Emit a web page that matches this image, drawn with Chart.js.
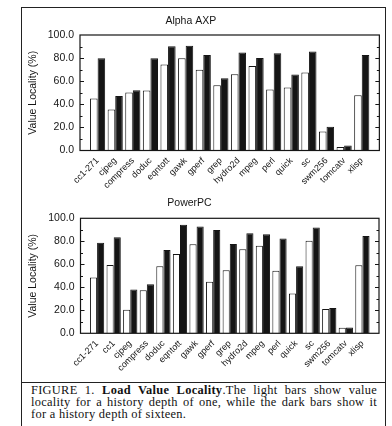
<!DOCTYPE html>
<html>
<head>
<meta charset="utf-8">
<script src="https://cdn.jsdelivr.net/npm/chart.js@4"></script>
<style>
html,body{margin:0;padding:0;background:#fff;width:392px;height:426px;overflow:hidden;}
#frame{position:absolute;left:21px;top:7px;width:365px;height:430px;border:1.5px solid #222;box-sizing:border-box;}
#sep{position:absolute;left:21px;top:382px;width:365px;height:0;border-top:1.5px solid #222;}
canvas{position:absolute;left:0;}
#c1{top:0;}
#c2{top:190px;}
#caption{position:absolute;left:31px;top:384px;width:346px;font-family:"Liberation Serif",serif;font-size:12.4px;line-height:12.2px;color:#111;letter-spacing:0.3px;}
#caption .j{display:block;text-align:justify;text-align-last:justify;white-space:nowrap;}
#caption .l{display:block;white-space:nowrap;}
</style>
</head>
<body>
<div id="frame"></div>
<div id="sep"></div>
<canvas id="c1" width="392" height="190"></canvas>
<canvas id="c2" width="392" height="190"></canvas>
<div id="caption"><span class="j">FIGURE 1. <b>Load Value Locality</b>.The light bars show value</span><span class="j">locality for a history depth of one, while the dark bars show it</span><span class="l">for a history depth of sixteen.</span></div>
<script>
// ---- data ----
const alphaCategories = ["cc1-271","cjpeg","compress","doduc","eqntott","gawk","gperf","grep","hydro2d","mpeg","perl","quick","sc","swm256","tomcatv","xlisp"];
const alphaDepth1  = [45.0, 35.6, 50.2, 51.9, 74.5, 79.8, 69.9, 56.5, 66.0, 73.2, 52.8, 54.5, 67.5, 16.5, 3.0, 47.8];
const alphaDepth16 = [79.8, 47.2, 52.2, 79.8, 90.2, 90.7, 82.6, 62.6, 84.8, 80.0, 84.1, 65.8, 85.7, 20.6, 4.3, 82.6];

const ppcCategories = ["cc1-271","cc1","cjpeg","compress","doduc","eqntott","gawk","gperf","grep","hydro2d","mpeg","perl","quick","sc","swm256","tomcatv","xlisp"];
const ppcDepth1  = [48.5, 59.5, 20.4, 37.4, 58.4, 69.0, 77.4, 44.9, 54.8, 73.0, 76.2, 54.4, 34.6, 80.5, 21.1, 4.8, 59.2];
const ppcDepth16 = [78.8, 83.5, 38.0, 42.7, 72.4, 94.3, 92.8, 89.8, 77.6, 87.0, 86.1, 82.4, 58.3, 91.9, 22.0, 5.1, 84.6];

const yTicks = [0, 20, 40, 60, 80, 100];
const yTitle = "Value Locality (%)";

const INK = '#151515';
const frameTicks = {
  id: 'frameTicks',
  afterDraw(chart) {
    const {ctx, chartArea: a, scales: {y}} = chart;
    ctx.save();
    ctx.strokeStyle = INK;
    ctx.lineWidth = 1.2;
    ctx.strokeRect(a.left, a.top, a.right - a.left, a.bottom - a.top);
    ctx.lineWidth = 1;
    for (let v = 10; v < 100; v += 10) {
      const py = Math.round(y.getPixelForValue(v)) + 0.5;
      const len = (v % 20 === 0) ? 4 : 2.5;
      ctx.beginPath();
      ctx.moveTo(a.left, py); ctx.lineTo(a.left + len, py);
      ctx.moveTo(a.right, py); ctx.lineTo(a.right - len, py);
      ctx.stroke();
    }
    ctx.restore();
  }
};

function makeChart(id, title, cats, d1, d16, geo) {
  const labels = ['', ...cats, ''];
  const pad = a => [null, ...a, null];
  return new Chart(document.getElementById(id), {
    type: 'bar',
    data: {
      labels,
      datasets: [
        {label: 'depth 1', data: pad(d1), backgroundColor: '#ffffff', borderColor: INK, borderWidth: 1,
         categoryPercentage: geo.cat, barPercentage: 1.0},
        {label: 'depth 16', data: pad(d16), backgroundColor: INK, borderColor: INK, borderWidth: 1,
         categoryPercentage: geo.cat, barPercentage: 1.0}
      ]
    },
    options: {
      responsive: false,
      animation: false,
      layout: {padding: {left: 0, right: geo.right, top: 0, bottom: 0}},
      plugins: {
        legend: {display: false},
        tooltip: {enabled: false},
        title: {display: true, text: title, color: INK,
          font: {family: '"Liberation Sans", Arial, sans-serif', size: 10.5, weight: 'normal', lineHeight: 1.2},
          padding: {top: geo.tTop, bottom: geo.tBot}}
      },
      scales: {
        x: {
          offset: false,
          grid: {display: false, drawTicks: false},
          border: {display: false},
          ticks: {autoSkip: false, maxRotation: 45, minRotation: 45, padding: 5, color: INK,
            font: {family: '"Liberation Sans", Arial, sans-serif', size: 9}},
          afterFit(s) { s.height = geo.xh; }
        },
        y: {
          min: 0, max: 100,
          afterBuildTicks(s) { s.ticks = yTicks.map(v => ({value: v})); },
          grid: {display: false, drawTicks: false},
          border: {display: false},
          ticks: {padding: 6, color: INK, callback: v => Number(v).toFixed(1),
            font: {family: '"Liberation Sans", Arial, sans-serif', size: 10.5}},
          title: {display: true, text: yTitle, color: INK, padding: {top: 26.5, bottom: 0},
            font: {family: '"Liberation Sans", Arial, sans-serif', size: 10.5, lineHeight: 1.2}},
          afterFit(s) { s.width = geo.yw; }
        }
      }
    },
    plugins: [frameTicks]
  });
}

makeChart('c1', 'Alpha AXP', alphaCategories, alphaDepth1, alphaDepth16,
  {cat: 0.86, right: 10.4, tTop: 14.5, tBot: 7.9, xh: 39.5, yw: 80});
makeChart('c2', 'PowerPC', ppcCategories, ppcDepth1, ppcDepth16,
  {cat: 0.86, right: 13, tTop: 7, tBot: 8.7, xh: 46.7, yw: 80.5});
</script>
</body>
</html>
